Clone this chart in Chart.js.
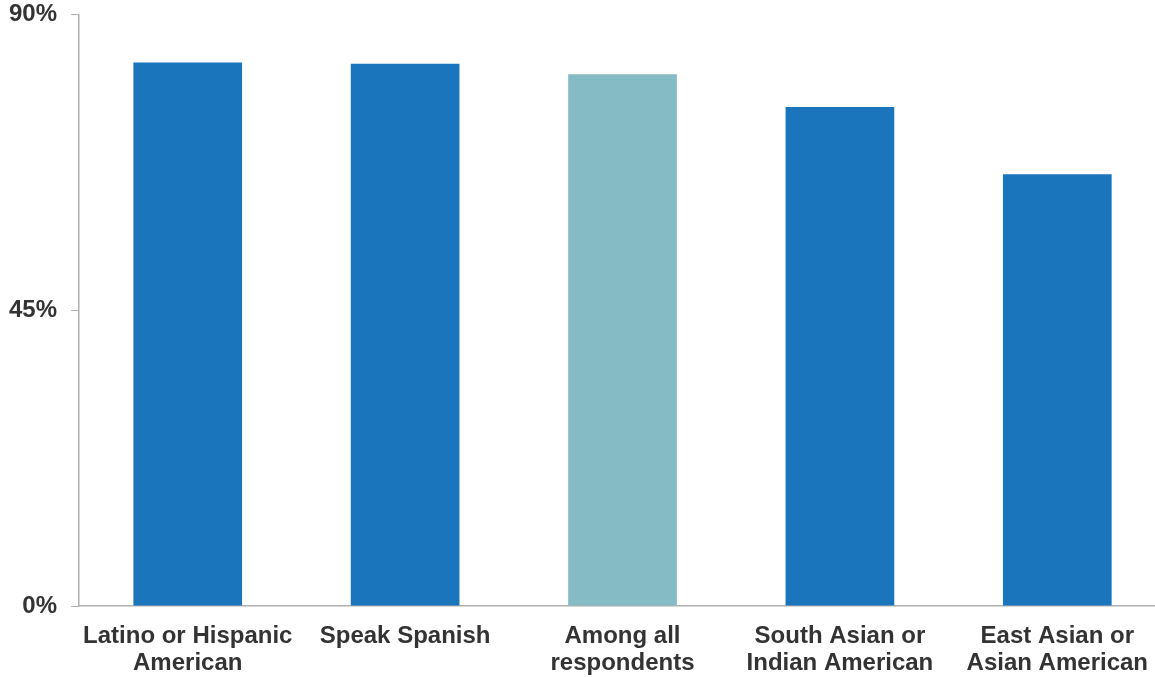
<!DOCTYPE html>
<html>
<head>
<meta charset="utf-8">
<script src="https://cdn.jsdelivr.net/npm/chart.js@4/dist/chart.umd.min.js"></script>
<style>
  html, body { margin: 0; padding: 0; background: #fff; overflow: hidden; }
  #wrap { width: 1171px; height: 701px; margin-left: -5px; margin-top: -14px; }
</style>
</head>
<body>
<div id="wrap"><canvas id="barChart"></canvas></div>
<script>
const categories = [
  ["Latino or Hispanic", "American"],
  ["Speak Spanish"],
  ["Among all", "respondents"],
  ["South Asian or", "Indian American"],
  ["East Asian or", "Asian American"]
];
const values = [82.7, 82.5, 80.9, 75.9, 65.7];
const barColors = ["#1b75bc", "#1b75bc", "#84bbc4", "#1b75bc", "#1b75bc"];
const yTicks = [0, 45, 90];

const ctx = document.getElementById("barChart").getContext("2d");

new Chart(ctx, {
  type: "bar",
  data: {
    labels: categories,
    datasets: [{ data: values, backgroundColor: barColors, barPercentage: 0.5, categoryPercentage: 1 }]
  },
  options: {
    responsive: true,
    maintainAspectRatio: false,
    animation: false,
    layout: { padding: { left: 0, top: 0, right: 0, bottom: 1 } },
    plugins: { legend: { display: false }, tooltip: { enabled: false } },
    scales: {
      x: {
        grid: { display: false },
        border: { color: "#b0b0b0", width: 1.5 },
        ticks: {
          color: "#333",
          font: { family: "Liberation Sans", size: 24, weight: "bold", lineHeight: 1.125 },
          padding: 9,
          maxRotation: 0,
          autoSkip: false
        }
      },
      y: {
        min: 0,
        max: 90,
        afterBuildTicks: (axis) => { axis.ticks = yTicks.map((v) => ({ value: v })); },
        grid: { drawOnChartArea: false, tickLength: 8, color: "#b0b0b0" },
        border: { color: "#b0b0b0", width: 1.5 },
        ticks: {
          color: "#333",
          font: { family: "Liberation Sans", size: 24, weight: "bold" },
          padding: 14,
          callback: (v) => v + "%"
        }
      }
    }
  }
});
</script>
</body>
</html>
